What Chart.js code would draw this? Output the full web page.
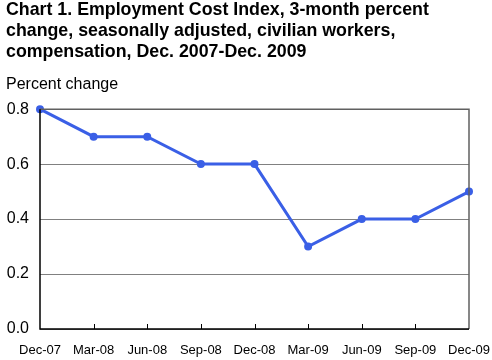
<!DOCTYPE html>
<html><head><meta charset="utf-8">
<script src="https://cdn.jsdelivr.net/npm/chart.js@4"></script>
<style>html,body{margin:0;padding:0;background:#fff;}#wrap{width:492px;height:360px;}</style>
</head><body><div id="wrap"><canvas id="c" width="492" height="360"></canvas></div>
<script>
const categories = ['Dec-07','Mar-08','Jun-08','Sep-08','Dec-08','Mar-09','Jun-09','Sep-09','Dec-09'];
const values = [0.8, 0.7, 0.7, 0.6, 0.6, 0.3, 0.4, 0.4, 0.5];
const titleLines = ['Chart 1. Employment Cost Index, 3-month percent','change, seasonally adjusted, civilian workers,','compensation, Dec. 2007-Dec. 2009'];
const yLabel = 'Percent change';

const FONT = 'Liberation Sans, Arial, sans-serif';
const frame = {
  id:'frame',
  afterDatasetsDraw(chart){
    const {ctx, chartArea:a, scales:{x}} = chart;
    ctx.save();
    ctx.strokeStyle = '#606060'; ctx.lineWidth = 1.5;
    ctx.beginPath(); ctx.moveTo(a.left, a.top); ctx.lineTo(a.right, a.top); ctx.lineTo(a.right, a.bottom); ctx.stroke();
    ctx.strokeStyle = '#000'; ctx.lineWidth = 1.5;
    ctx.beginPath(); ctx.moveTo(a.left, a.top); ctx.lineTo(a.left, a.bottom); ctx.lineTo(a.right, a.bottom); ctx.stroke();
    ctx.lineWidth = 1;
    ctx.beginPath();
    for (let i = 1; i < x.ticks.length - 1; i++) {
      const px = Math.round(x.getPixelForTick(i)) + 0.5;
      ctx.moveTo(px, a.bottom); ctx.lineTo(px, a.bottom - 5);
    }
    ctx.stroke();
    ctx.restore();
  }
};

new Chart(document.getElementById('c'), {
  type:'line',
  data:{labels:categories, datasets:[{data:values, borderColor:'#3a5fe6', backgroundColor:'#3a5fe6', borderWidth:3, pointRadius:2.5, pointHoverRadius:2.5, tension:0, clip:false}]},
  options:{
    responsive:false, animation:false,
    layout:{padding:{left:6, right:23, top:0, bottom:0}},
    plugins:{
      legend:{display:false}, tooltip:{enabled:false},
      title:{display:true, text:titleLines, align:'start', color:'#000', font:{family:FONT, size:17.8, weight:'bold', lineHeight:1.16}, padding:{top:0, bottom:6}},
      subtitle:{display:true, text:yLabel, align:'start', color:'#000', font:{family:FONT, size:16, weight:'normal', lineHeight:1.2}, padding:{top:7, bottom:15}}
    },
    scales:{
      x:{offset:false, grid:{display:false, drawTicks:false}, border:{display:false},
         afterFit(s){ s.paddingLeft = 0; s.paddingRight = 0; s.height = 31; },
         ticks:{color:'#000', padding:14, maxRotation:0, autoSkip:false, font:{family:FONT, size:13}}},
      y:{min:0, max:0.8, grid:{color:'#808080', lineWidth:1, drawTicks:false}, border:{display:false},
         afterFit(s){ s.width = 34; s.paddingTop = 0; s.paddingBottom = 0; },
         ticks:{stepSize:0.2, color:'#000', padding:11, font:{family:FONT, size:16}, callback:v=>Number(v).toFixed(1)}}
    }
  },
  plugins:[frame]
});
</script></body></html>
